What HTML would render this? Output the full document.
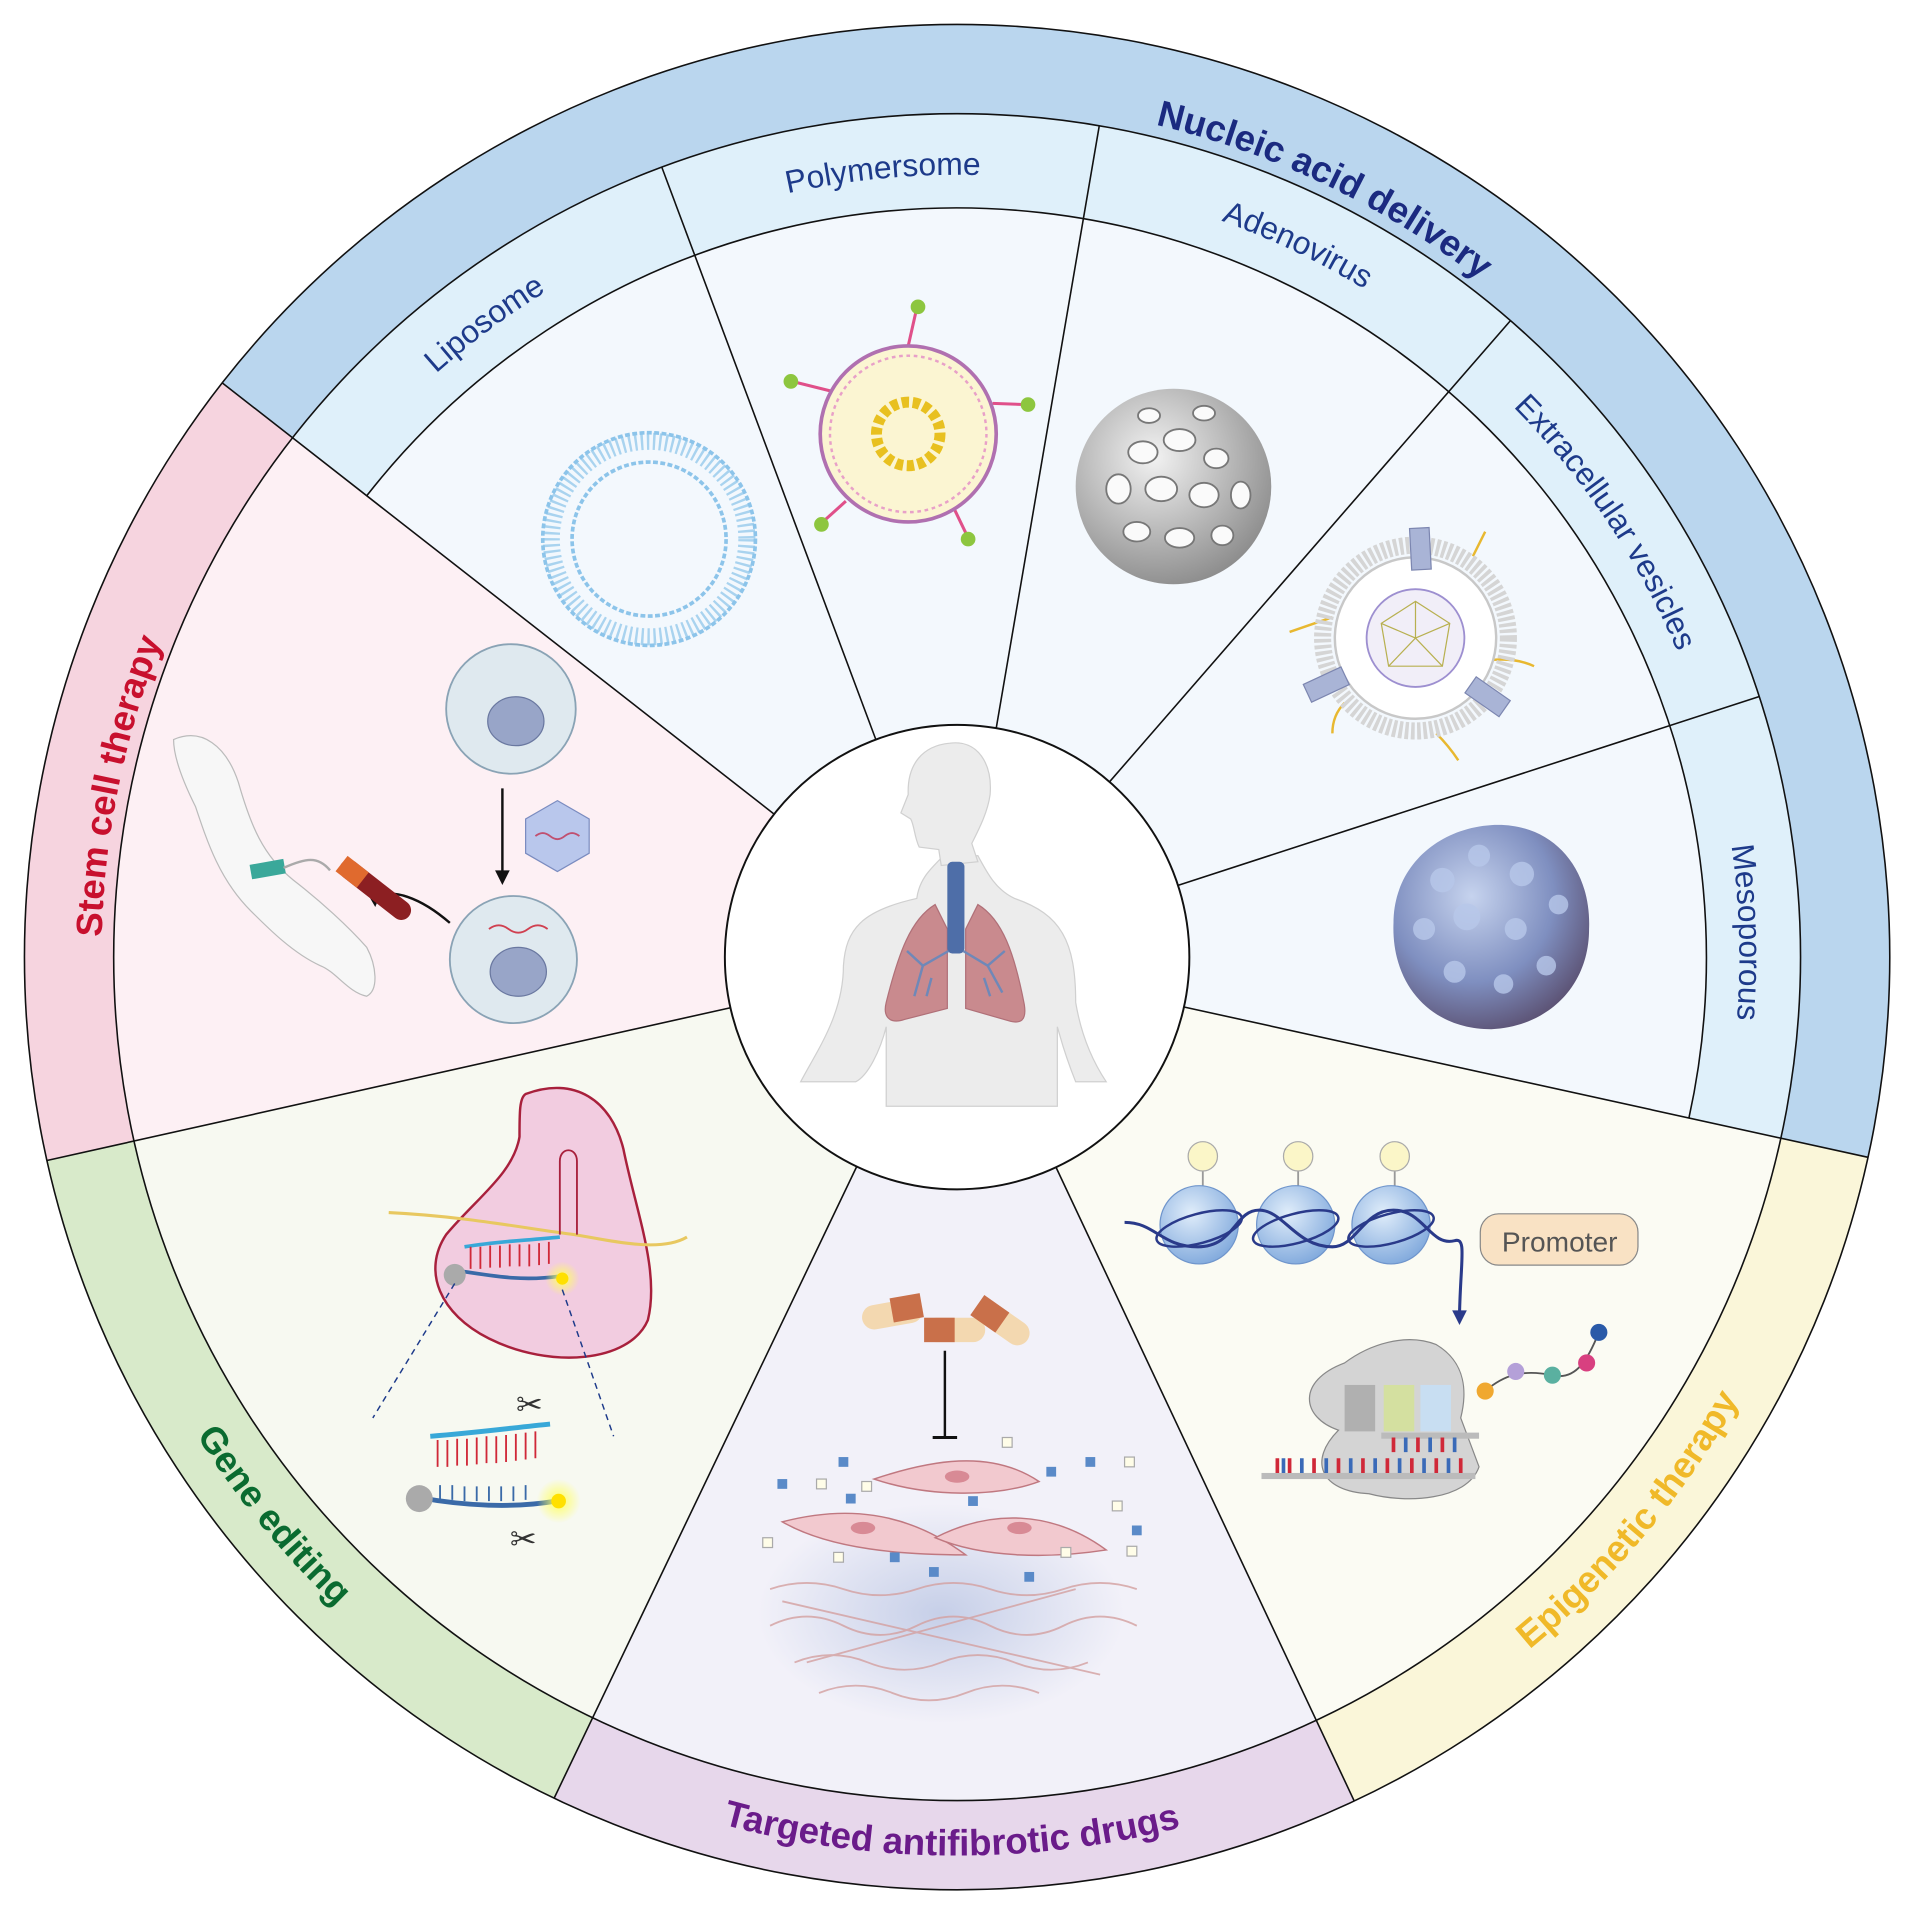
<!DOCTYPE html>
<html><head><meta charset="utf-8"><style>
html,body{margin:0;padding:0;background:#fff;width:1913px;height:1913px;overflow:hidden}
svg{display:block}
</style></head><body>
<svg width="1913" height="1913" viewBox="0 0 1565 1565" xmlns="http://www.w3.org/2000/svg" font-family="Liberation Sans, Arial, sans-serif">
<defs>
<path id="cw700" d="M783,1483 A700,700 0 1 1 783,83 A700,700 0 1 1 783,1483"/>
<path id="cw640" d="M783,1423 A640,640 0 1 1 783,143 A640,640 0 1 1 783,1423"/>
<path id="ccw735" d="M1518,783 A735,735 0 1 0 48,783 A735,735 0 1 0 1518,783"/>
<radialGradient id="grayS" cx="0.4" cy="0.35" r="0.7"><stop offset="0" stop-color="#f2f2f2"/><stop offset="1" stop-color="#8a8a8a"/></radialGradient>
<radialGradient id="mesoS" cx="0.4" cy="0.35" r="0.7"><stop offset="0" stop-color="#c6d3ee"/><stop offset="0.6" stop-color="#7f8fc0"/><stop offset="1" stop-color="#5a4f70"/></radialGradient>
<radialGradient id="nucS" cx="0.4" cy="0.35" r="0.7"><stop offset="0" stop-color="#e0edfa"/><stop offset="1" stop-color="#7fa8dc"/></radialGradient>
<radialGradient id="glow"><stop offset="0" stop-color="#ffff60"/><stop offset="1" stop-color="#ffff60" stop-opacity="0"/></radialGradient>
<radialGradient id="blueHaze"><stop offset="0" stop-color="#c6cfe8"/><stop offset="1" stop-color="#c6cfe8" stop-opacity="0"/></radialGradient>
</defs>

<!-- outer wedges -->
<path d="M783,783 L181.8,313.2 A763,763 0 0 1 1528.2,946.8 Z" fill="#bad6ee"/>
<path d="M783,783 L1528.2,946.8 A763,763 0 0 1 1107.9,1473.4 Z" fill="#faf6d9"/>
<path d="M783,783 L1107.9,1473.4 A763,763 0 0 1 453.3,1471.1 Z" fill="#e7d7eb"/>
<path d="M783,783 L453.3,1471.1 A763,763 0 0 1 38.4,949.4 Z" fill="#d8eaca"/>
<path d="M783,783 L38.4,949.4 A763,763 0 0 1 181.8,313.2 Z" fill="#f6d4df"/>
<!-- inner wedges -->
<path d="M783,783 L239.3,358.2 A690,690 0 0 1 1456.9,931.1 Z" fill="#dff0fa"/>
<path d="M783,783 L300,405.6 A613,613 0 0 1 1381.7,914.6 Z" fill="#f3f8fd"/>
<path d="M783,783 L1456.9,931.1 A690,690 0 0 1 1076.8,1407.3 Z" fill="#fbfbf3"/>
<path d="M783,783 L1076.8,1407.3 A690,690 0 0 1 484.9,1405.2 Z" fill="#f2f1f9"/>
<path d="M783,783 L484.9,1405.2 A690,690 0 0 1 109.6,933.5 Z" fill="#f7f9f1"/>
<path d="M783,783 L109.6,933.5 A690,690 0 0 1 239.3,358.2 Z" fill="#fdf0f4"/>

<g fill="none" stroke="#111" stroke-width="1.3">
<circle cx="783" cy="783" r="763"/>
<circle cx="783" cy="783" r="690"/>
<path d="M300,405.6 A613,613 0 0 1 1381.7,914.6"/>
<line x1="633.3" y1="666" x2="181.8" y2="313.2"/>
<line x1="716.5" y1="605" x2="541.4" y2="136.7"/>
<line x1="815" y1="595.7" x2="899.3" y2="102.9"/>
<line x1="907.7" y1="639.6" x2="1235.7" y2="262.3"/>
<line x1="963.7" y1="724.3" x2="1439.3" y2="569.8"/>
<line x1="968.6" y1="823.8" x2="1528.2" y2="946.8"/>
<line x1="863.9" y1="954.9" x2="1107.9" y2="1473.4"/>
<line x1="700.9" y1="954.3" x2="453.3" y2="1471.1"/>
<line x1="597.6" y1="824.4" x2="38.4" y2="949.4"/>
</g>

<!-- outer labels -->
<g font-weight="bold" font-size="30" text-anchor="middle">
<text fill="#1b2a80"><textPath href="#cw700" startOffset="57.1%">Nucleic acid delivery</textPath></text>
<text fill="#c8102e"><textPath href="#cw700" startOffset="28.2%">Stem cell therapy</textPath></text>
<text fill="#0a6b30"><textPath href="#ccw735" startOffset="60.9%">Gene editing</textPath></text>
<text fill="#6a1b8a"><textPath href="#ccw735" startOffset="74.9%">Targeted antifibrotic drugs</textPath></text>
<text fill="#f0b929"><textPath href="#ccw735" startOffset="88.9%">Epigenetic therapy</textPath></text>
</g>
<g font-size="26" text-anchor="middle" fill="#1d3a8a">
<text><textPath href="#cw640" startOffset="39.8%">Liposome</textPath></text>
<text><textPath href="#cw640" startOffset="48.5%">Polymersome</textPath></text>
<text><textPath href="#cw640" startOffset="57.1%">Adenovirus</textPath></text>
<text><textPath href="#cw640" startOffset="65.6%">Extracellular vesicles</textPath></text>
<text><textPath href="#cw640" startOffset="74.5%">Mesoporous</textPath></text>
</g>

<!-- Liposome -->
<circle cx="531" cy="441" r="80" fill="none" stroke="#a9d3ef" stroke-width="14" stroke-dasharray="2 3"/>
<circle cx="531" cy="441" r="87" fill="none" stroke="#8cc4ea" stroke-width="3" stroke-dasharray="4 2"/>
<circle cx="531" cy="441" r="63" fill="none" stroke="#8cc4ea" stroke-width="3" stroke-dasharray="4 2"/>

<!-- Polymersome -->
<g stroke="#e0508a" stroke-width="2.5"><line x1="743" y1="283" x2="750" y2="252"/><line x1="680" y1="320" x2="648" y2="312"/><line x1="812" y1="330" x2="840" y2="331"/><line x1="692" y1="410" x2="672" y2="428"/><line x1="780" y1="415" x2="792" y2="440"/></g>
<g fill="#8dc63f"><circle cx="751" cy="251" r="6"/><circle cx="647" cy="312" r="6"/><circle cx="841" cy="331" r="6"/><circle cx="672" cy="429" r="6"/><circle cx="792" cy="441" r="6"/></g>
<circle cx="743" cy="355" r="72" fill="#fbf5d2" stroke="#b070b0" stroke-width="3"/>
<circle cx="743" cy="355" r="64" fill="none" stroke="#e8a0c8" stroke-width="2" stroke-dasharray="3 3"/>
<circle cx="743" cy="355" r="26" fill="none" stroke="#e8c020" stroke-width="9" stroke-dasharray="6 3"/>

<!-- Adenovirus (porous sphere) -->
<circle cx="960" cy="398" r="80" fill="url(#grayS)"/>
<g fill="#fafafa" stroke="#777" stroke-width="1.5">
<ellipse cx="935" cy="370" rx="12" ry="9"/><ellipse cx="965" cy="360" rx="13" ry="9"/><ellipse cx="995" cy="375" rx="10" ry="8"/><ellipse cx="915" cy="400" rx="10" ry="12"/><ellipse cx="950" cy="400" rx="13" ry="10"/><ellipse cx="985" cy="405" rx="12" ry="10"/><ellipse cx="1015" cy="405" rx="8" ry="11"/><ellipse cx="930" cy="435" rx="11" ry="8"/><ellipse cx="965" cy="440" rx="12" ry="8"/><ellipse cx="1000" cy="438" rx="9" ry="8"/><ellipse cx="940" cy="340" rx="9" ry="6"/><ellipse cx="985" cy="338" rx="9" ry="6"/>
</g>

<!-- EV -->
<g stroke="#e8b830" stroke-width="2" fill="none"><path d="M1090,505 q-15,5 -35,12"/><path d="M1220,540 q20,-2 35,5"/><path d="M1205,455 q5,-10 10,-20"/><path d="M1100,575 q-10,10 -10,25"/><path d="M1175,600 q10,10 18,22"/></g>
<circle cx="1158" cy="522" r="76" fill="none" stroke="#d5d5d5" stroke-width="14" stroke-dasharray="3 2"/>
<circle cx="1158" cy="522" r="66" fill="#fff" stroke="#c8c8c8" stroke-width="2"/>
<circle cx="1158" cy="522" r="40" fill="#f1eef8" stroke="#9d8fd0" stroke-width="1.5"/>
<path d="M1130,510 L1158,492 L1186,510 L1180,545 L1136,545 Z M1158,492 L1158,522 L1130,510 M1158,522 L1186,510 M1158,522 L1136,545 M1158,522 L1180,545" fill="none" stroke="#b8b050" stroke-width="1"/>
<rect x="1154" y="432" width="16" height="34" fill="#a9b4d6" stroke="#7c86b0" transform="rotate(-3 1162 449)"/>
<rect x="1068" y="552" width="34" height="16" fill="#a9b4d6" stroke="#7c86b0" transform="rotate(-25 1085 560)"/>
<rect x="1200" y="562" width="34" height="16" fill="#a9b4d6" stroke="#7c86b0" transform="rotate(35 1217 570)"/>

<!-- Mesoporous -->
<path d="M1220,675 C1270,672 1302,710 1300,760 C1300,808 1265,840 1220,842 C1170,842 1138,805 1140,755 C1140,710 1175,678 1220,675 Z" fill="url(#mesoS)"/>
<g fill="#b8c8ea" opacity="0.8"><circle cx="1180" cy="720" r="10"/><circle cx="1210" cy="700" r="9"/><circle cx="1245" cy="715" r="10"/><circle cx="1165" cy="760" r="9"/><circle cx="1200" cy="750" r="11"/><circle cx="1240" cy="760" r="9"/><circle cx="1275" cy="740" r="8"/><circle cx="1190" cy="795" r="9"/><circle cx="1230" cy="805" r="8"/><circle cx="1265" cy="790" r="8"/></g>

<!-- center -->
<circle cx="783" cy="783" r="190" fill="#fff" stroke="#111" stroke-width="1.6"/>
<g fill="#ececec" stroke="#d0d0d0" stroke-width="1">
<path d="M750,735 C752,720 760,712 770,702 L800,700 C808,715 815,728 830,735 C868,748 880,770 880,820 C885,850 895,870 905,885 L880,885 C870,860 868,850 865,840 L865,905 L725,905 L725,840 C720,860 710,880 700,885 L655,885 C668,860 690,830 690,790 C692,760 705,745 750,735 Z"/>
<path d="M777,608 C800,605 812,625 810,650 C808,665 800,680 795,690 L800,705 L770,708 L768,695 L752,693 C748,685 748,675 745,670 L737,665 L743,650 C742,625 755,610 777,608 Z"/>
</g>
<path d="M765,740 C745,752 735,780 725,820 C722,832 728,838 740,834 L775,825 L775,760 Z" fill="#c98a8e" stroke="#b07078" stroke-width="1"/>
<path d="M800,740 C820,752 830,780 838,822 C840,835 835,838 825,835 L790,825 L790,760 Z" fill="#c98a8e" stroke="#b07078" stroke-width="1"/>
<rect x="775" y="705" width="14" height="75" rx="4" fill="#4e6ea8"/>
<g stroke="#6f88b8" stroke-width="2" fill="none"><path d="M776,778 L755,790 L748,815 M755,790 L742,778 M762,800 L758,815"/><path d="M788,778 L808,790 L820,812 M808,790 L822,778 M805,800 L810,815"/></g>

<!-- Stem cell -->
<circle cx="418" cy="580" r="53" fill="#dfe9ef" stroke="#8aa3b5" stroke-width="1.5"/>
<ellipse cx="422" cy="590" rx="23" ry="20" fill="#98a5c8" stroke="#6a78a0"/>
<circle cx="420" cy="785" r="52" fill="#dfe9ef" stroke="#8aa3b5" stroke-width="1.5"/>
<ellipse cx="424" cy="795" rx="23" ry="20" fill="#98a5c8" stroke="#6a78a0"/>
<path d="M400,760 q8,-6 16,0 t16,0 t16,0" stroke="#d04050" fill="none" stroke-width="1.5"/>
<line x1="411" y1="645" x2="411" y2="715" stroke="#111" stroke-width="2"/><path d="M405,712 L411,724 L417,712 Z" fill="#111"/>
<polygon points="456,655 482,670 482,698 456,713 430,698 430,670" fill="#b9c7ec" stroke="#7b8cc0"/>
<path d="M438,684 q6,-5 12,0 t12,0 t12,0" stroke="#c05070" fill="none" stroke-width="1.5"/>
<path d="M368,755 C345,735 320,725 305,735" stroke="#111" stroke-width="2" fill="none"/><path d="M300,730 L307,742 L312,730 Z" fill="#111"/>
<path d="M142,605 C165,595 185,610 195,640 C205,675 215,700 240,720 C262,737 285,758 300,775 C308,790 310,810 300,815 C285,812 275,795 262,790 C240,780 220,760 205,745 C180,720 170,690 160,660 C150,640 142,620 142,605 Z" fill="#f7f7f7" stroke="#bbb"/>
<rect x="205" y="705" width="28" height="12" fill="#3aa89a" transform="rotate(-10 219 711)"/>
<path d="M232,710 C250,702 260,700 270,712" stroke="#aaa" stroke-width="2" fill="none"/>
<rect x="272" y="720" width="70" height="16" rx="8" fill="#8c1f22" transform="rotate(38 307 728)"/>
<rect x="272" y="720" width="22" height="16" fill="#e06a2e" transform="rotate(38 307 728)"/>

<!-- Gene editing -->
<path d="M430,895 C470,880 500,900 510,940 C520,990 540,1040 530,1080 C515,1115 450,1120 400,1095 C360,1075 345,1040 365,1010 C390,980 420,960 425,930 C425,910 425,898 430,895 Z" fill="#f2cce0" stroke="#a8203c" stroke-width="2"/>
<path d="M318,992 C380,995 430,1005 470,1010 C500,1015 540,1025 562,1012" stroke="#e8c860" stroke-width="2.5" fill="none"/>
<path d="M380,1020 C410,1015 430,1015 458,1012" stroke="#38a8d8" stroke-width="3" fill="none"/>
<path d="M378,1040 C410,1045 430,1048 458,1044" stroke="#3a6aa8" stroke-width="3" fill="none"/>
<g stroke="#d02838" stroke-width="1.5"><path d="M385,1020v18M393,1020v18M401,1019v18M409,1019v18M417,1018v18M425,1018v18M433,1018v18M441,1017v18M449,1016v18"/></g>
<path d="M458,1010 L458,950 C458,938 472,938 472,950 L472,1010" stroke="#a8203c" fill="none" stroke-width="1.5"/>
<circle cx="372" cy="1043" r="9" fill="#aaa"/><circle cx="460" cy="1046" r="14" fill="url(#glow)"/><circle cx="460" cy="1046" r="5" fill="#ffe000"/>
<g stroke="#1d3a8a" stroke-dasharray="5 4" stroke-width="1.2"><line x1="372" y1="1050" x2="305" y2="1160"/><line x1="460" y1="1055" x2="502" y2="1175"/></g>
<path d="M352,1175 C390,1172 420,1168 450,1165" stroke="#38a8d8" stroke-width="4" fill="none"/>
<g stroke="#d02838" stroke-width="1.5"><path d="M358,1178v22M366,1178v22M374,1177v22M382,1177v22M390,1176v22M398,1175v22M406,1175v22M414,1174v22M422,1173v22M430,1172v22M438,1171v22"/></g>
<path d="M342,1225 C380,1232 420,1234 455,1228" stroke="#3a6aa8" stroke-width="4" fill="none"/>
<g stroke="#3a6aa8" stroke-width="1.5"><path d="M360,1215v12M370,1215v12M380,1216v12M390,1216v12M400,1216v12M410,1216v12M420,1216v12M430,1215v12"/></g>
<circle cx="343" cy="1226" r="11" fill="#aaa"/><circle cx="457" cy="1228" r="18" fill="url(#glow)"/><circle cx="457" cy="1228" r="6" fill="#ffe000"/>
<text x="433" y="1158" font-size="26" text-anchor="middle" fill="#333">✂</text>
<text x="428" y="1268" font-size="26" text-anchor="middle" fill="#333">✂</text>

<!-- Targeted -->
<ellipse cx="770" cy="1320" rx="150" ry="90" fill="url(#blueHaze)"/>
<g fill="none" stroke="#d4a0a0" stroke-width="1.5" opacity="0.8">
<path d="M630,1300 q30,-10 60,0 t60,0 t60,0 t60,0 t60,0"/><path d="M630,1330 q30,-15 60,0 t60,0 t60,0 t60,0 t60,0"/><path d="M650,1360 q30,-12 60,0 t60,0 t60,0 t60,0"/><path d="M670,1385 q30,-12 60,0 t60,0 t60,0"/><path d="M640,1310 L900,1370"/><path d="M660,1360 L880,1300"/>
</g>
<g fill="#f2c9cf" stroke="#c07880" stroke-width="1.2">
<path d="M715,1210 C760,1195 810,1185 850,1212 C815,1225 760,1225 715,1210 Z"/>
<path d="M640,1245 C690,1232 740,1235 790,1272 C740,1272 680,1268 640,1245 Z"/>
<path d="M765,1258 C810,1235 860,1235 905,1268 C860,1275 805,1275 765,1258 Z"/>
</g>
<g fill="#d88a95"><ellipse cx="783" cy="1208" rx="10" ry="5"/><ellipse cx="706" cy="1250" rx="10" ry="5"/><ellipse cx="834" cy="1250" rx="10" ry="5"/></g>
<g fill="#5a8ac8"><rect x="686" y="1192" width="8" height="8"/><rect x="636" y="1210" width="8" height="8"/><rect x="692" y="1222" width="8" height="8"/><rect x="888" y="1192" width="8" height="8"/><rect x="856" y="1200" width="8" height="8"/><rect x="792" y="1224" width="8" height="8"/><rect x="728" y="1270" width="8" height="8"/><rect x="760" y="1282" width="8" height="8"/><rect x="926" y="1248" width="8" height="8"/><rect x="838" y="1286" width="8" height="8"/></g>
<g fill="#fffde8" stroke="#aaa"><rect x="668" y="1210" width="8" height="8"/><rect x="705" y="1212" width="8" height="8"/><rect x="820" y="1176" width="8" height="8"/><rect x="920" y="1192" width="8" height="8"/><rect x="910" y="1228" width="8" height="8"/><rect x="624" y="1258" width="8" height="8"/><rect x="682" y="1270" width="8" height="8"/><rect x="868" y="1266" width="8" height="8"/><rect x="922" y="1265" width="8" height="8"/></g>
<g><rect x="705" y="1065" width="50" height="20" rx="10" fill="#f3d8b0" transform="rotate(-10 730 1075)"/><rect x="730" y="1062" width="25" height="20" rx="0" fill="#c9704a" transform="rotate(-10 730 1075)"/>
<rect x="756" y="1078" width="50" height="20" rx="10" fill="#f3d8b0"/><rect x="756" y="1078" width="25" height="20" fill="#c9704a"/>
<rect x="795" y="1072" width="50" height="20" rx="10" fill="#f3d8b0" transform="rotate(35 820 1082)"/><rect x="795" y="1072" width="25" height="20" fill="#c9704a" transform="rotate(35 820 1082)"/></g>
<line x1="773" y1="1105" x2="773" y2="1175" stroke="#111" stroke-width="2"/><line x1="763" y1="1176" x2="783" y2="1176" stroke="#111" stroke-width="2.5"/>

<!-- Epigenetic -->
<g stroke="#999" stroke-width="1.5"><line x1="984" y1="958" x2="984" y2="975"/><line x1="1062" y1="958" x2="1062" y2="975"/><line x1="1141" y1="958" x2="1141" y2="975"/></g>
<g fill="#fbf6c8" stroke="#aaa"><circle cx="984" cy="946" r="12"/><circle cx="1062" cy="946" r="12"/><circle cx="1141" cy="946" r="12"/></g>
<g fill="url(#nucS)" stroke="#6f95cc"><circle cx="981" cy="1002" r="32"/><circle cx="1060" cy="1002" r="32"/><circle cx="1138" cy="1002" r="32"/></g>
<path d="M920,1000 C945,1000 950,1020 980,1020 C1010,1020 1010,990 1030,990 C1050,990 1060,1020 1090,1020 C1110,1020 1115,990 1140,990 C1165,990 1170,1020 1190,1015 C1200,1012 1195,1030 1194,1075" stroke="#2a3a8a" stroke-width="2.5" fill="none"/>
<g stroke="#2a3a8a" stroke-width="2" fill="none"><ellipse cx="981" cy="1005" rx="36" ry="12" transform="rotate(-15 981 1005)"/><ellipse cx="1060" cy="1005" rx="36" ry="12" transform="rotate(-15 1060 1005)"/><ellipse cx="1138" cy="1005" rx="36" ry="12" transform="rotate(-15 1138 1005)"/></g>
<path d="M1188,1072 L1194,1084 L1200,1072 Z" fill="#2a3a8a"/>
<rect x="1211" y="993" width="129" height="42" rx="15" fill="#f9e2c4" stroke="#888"/>
<text x="1276" y="1024" font-size="23" text-anchor="middle" fill="#555">Promoter</text>
<path d="M1100,1115 C1120,1100 1150,1090 1175,1100 C1200,1115 1200,1140 1195,1160 L1210,1200 C1200,1228 1150,1230 1120,1222 C1080,1220 1070,1195 1095,1170 C1065,1160 1060,1130 1100,1115 Z" fill="#d4d4d4" stroke="#888"/>
<rect x="1100" y="1133" width="25" height="38" fill="#b0b0b0"/><rect x="1132" y="1133" width="25" height="38" fill="#d4e0a0"/><rect x="1162" y="1133" width="25" height="38" fill="#c8def2"/>
<rect x="1130" y="1172" width="80" height="5" fill="#bbb"/><rect x="1032" y="1205" width="175" height="5" fill="#bbb"/>
<g stroke-width="3"><path d="M1045,1193v12M1055,1193v12M1075,1193v12M1095,1193v12M1115,1193v12M1135,1193v12M1155,1193v12M1175,1193v12M1195,1193v12M1140,1176v12M1160,1176v12M1180,1176v12" stroke="#d02838"/><path d="M1050,1193v12M1065,1193v12M1085,1193v12M1105,1193v12M1125,1193v12M1145,1193v12M1165,1193v12M1185,1193v12M1150,1176v12M1170,1176v12M1190,1176v12" stroke="#3a6ab8"/></g>
<path d="M1215,1138 C1230,1125 1245,1120 1270,1125 C1290,1130 1300,1110 1308,1090" stroke="#555" fill="none" stroke-width="1.5"/>
<circle cx="1215" cy="1138" r="7" fill="#f0a830"/><circle cx="1240" cy="1122" r="7" fill="#b4a0d8"/><circle cx="1270" cy="1125" r="7" fill="#5ab0a0"/><circle cx="1298" cy="1115" r="7" fill="#d84080"/><circle cx="1308" cy="1090" r="7" fill="#2a5aa8"/>
</svg>
</body></html>
